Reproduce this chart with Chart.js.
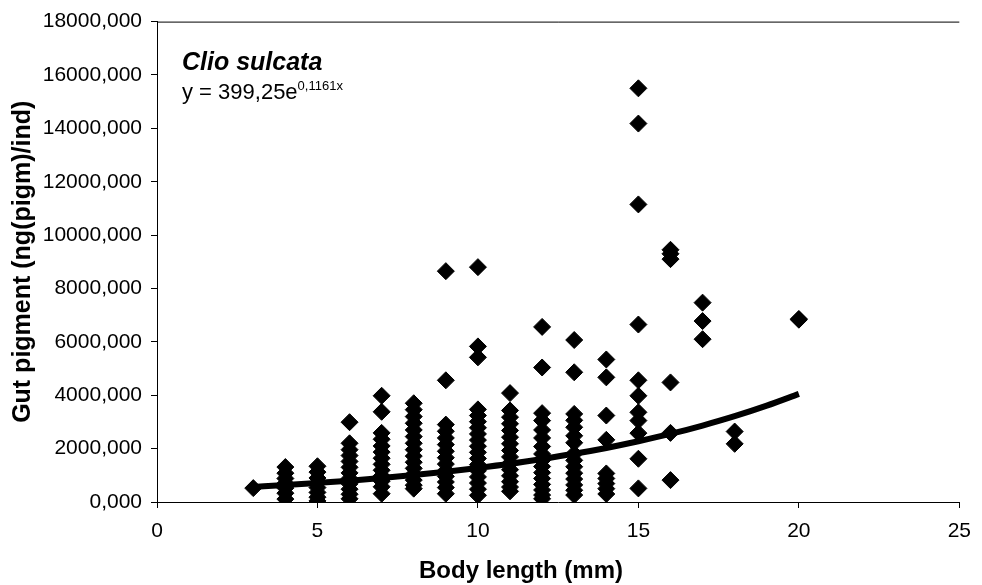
<!DOCTYPE html>
<html>
<head>
<meta charset="utf-8">
<script src="https://cdn.jsdelivr.net/npm/chart.js@4.4.1/dist/chart.umd.min.js"></script>
<style>
  html, body { margin: 0; padding: 0; background: #fff; }
  #wrap { width: 982px; height: 585px; position: relative; }
</style>
</head>
<body>
<div id="wrap"><canvas id="chart"></canvas></div>
<script>
/* ── DATA ─────────────────────────────────────────────────── */
// body length classes (mm) and the gut pigment readings at each one
const sizes = [3, 4, 5, 6, 7, 8, 9, 10, 11, 12, 13, 14, 15, 16, 17, 18, 20];
const pigment = [
  [520],
  [1310, 1080, 880, 700, 520, 330, 110],
  [1340, 1120, 900, 720, 540, 360, 180, 40],
  [2990, 2200, 1960, 1740, 1520, 1300, 1090, 880, 680, 480, 290, 120],
  [3980, 3380, 2590, 2350, 2100, 1870, 1640, 1410, 1190, 980, 780, 570, 310],
  [3700, 3460, 3200, 2950, 2700, 2450, 2200, 1960, 1720, 1490, 1260, 1040, 820, 630, 500],
  [8650, 4560, 2900, 2650, 2400, 2150, 1900, 1660, 1420, 1180, 960, 750, 540, 310],
  [8800, 5830, 5420, 3470, 3240, 3010, 2780, 2550, 2320, 2090, 1860, 1630, 1400, 1170, 940, 710, 480, 250],
  [4080, 3430, 3180, 2930, 2680, 2430, 2180, 1930, 1690, 1450, 1210, 980, 760, 560, 400],
  [6560, 5040, 3330, 3050, 2700, 2400, 2080, 1800, 1560, 1330, 1100, 880, 660, 450, 260, 120],
  [6070, 4860, 3300, 3060, 2800, 2480, 2220, 1810, 1560, 1320, 1080, 860, 640, 440, 260],
  [5340, 4670, 3240, 2330, 1070, 880, 690, 500, 300],
  [15500, 14180, 11150, 6650, 4560, 3980, 3360, 3050, 2580, 1620, 510],
  [9450, 9300, 9100, 4480, 2590, 820],
  [7470, 6780, 6100],
  [2640, 2180],
  [6830, 6860]
];

// exponential trend line as drawn, read at each mm from 3 to 20
const trendX = [3, 4, 5, 6, 7, 8, 9, 10, 11, 12, 13, 14, 15, 16, 17, 18, 19, 20];
const trendY = [565, 635, 715, 800, 900, 1010, 1135, 1275, 1430, 1610, 1805, 2025, 2275, 2550, 2865, 3215, 3610, 4050];

const xTicks = [0, 5, 10, 15, 20, 25];
const yMax = 18000;

const species  = "Clio sulcata";
const eqMain   = "y = 399,25e";
const eqPower  = "0,1161x";
const xTitle   = "Body length (mm)";
const yTitle   = "Gut pigment (ng(pigm)/ind)";

/* ── BUILD POINTS ─────────────────────────────────────────── */
const points = [];
sizes.forEach((s, i) => pigment[i].forEach(v => points.push({ x: s, y: v })));
const trend = trendX.map((x, i) => ({ x, y: trendY[i] }));

const FONT = "'Liberation Sans', Arial, sans-serif";

/* ── ANNOTATIONS ──────────────────────────────────────────── */
const notes = {
  id: "notes",
  afterDraw(chart) {
    const { ctx, chartArea: a } = chart;
    ctx.save();
    // plot frame top edge
    ctx.strokeStyle = "#000";
    ctx.lineWidth = 1;
    ctx.beginPath();
    ctx.moveTo(a.left, a.top + 0.5);
    ctx.lineTo(a.right, a.top + 0.5);
    ctx.stroke();

    ctx.fillStyle = "#000";
    ctx.textBaseline = "alphabetic";
    ctx.textAlign = "left";
    ctx.font = `italic bold 25px ${FONT}`;
    ctx.fillText(species, a.left + 25, 70);

    ctx.font = `22px ${FONT}`;
    ctx.fillText(eqMain, a.left + 25, 99);
    const w = ctx.measureText(eqMain).width;
    ctx.font = `13px ${FONT}`;
    ctx.fillText(eqPower, a.left + 25 + w, 90);

    ctx.font = `bold 24px ${FONT}`;
    ctx.textAlign = "center";
    ctx.textBaseline = "middle";
    ctx.fillText(xTitle, 521, 571);
    ctx.restore();
  }
};

/* ── CHART ────────────────────────────────────────────────── */
new Chart(document.getElementById("chart"), {
  type: "scatter",
  data: {
    datasets: [
      {
        data: points,
        pointStyle: "rectRot",
        pointRadius: 8.5,
        pointBorderWidth: 1,
        backgroundColor: "#000",
        borderColor: "#000"
      },
      {
        data: trend,
        showLine: true,
        pointRadius: 0,
        borderColor: "#000",
        borderWidth: 6,
        cubicInterpolationMode: "monotone"
      }
    ]
  },
  options: {
    responsive: true,
    maintainAspectRatio: false,
    animation: false,
    devicePixelRatio: 1,
    layout: { padding: { top: 18, right: 22, left: 0, bottom: 0 } },
    plugins: { legend: { display: false }, tooltip: { enabled: false } },
    scales: {
      x: {
        type: "linear",
        min: 0, max: 25,
        afterBuildTicks: s => { s.ticks = xTicks.map(v => ({ value: v })); },
        afterFit: s => { s.height = 83; },
        ticks: { color: "#000", font: { family: FONT, size: 21 }, padding: 11 },
        grid: { drawOnChartArea: false, drawTicks: true, tickLength: 6, color: "#000" },
        border: { color: "#000", width: 1 }
      },
      y: {
        min: 0, max: yMax,
        afterFit: s => { s.width = 157; },
        ticks: {
          stepSize: 2000,
          color: "#000",
          font: { family: FONT, size: 21 },
          padding: 9,
          callback: v => v.toFixed(3).replace(".", ",")
        },
        grid: { drawOnChartArea: false, drawTicks: true, tickLength: 6, color: "#000" },
        border: { color: "#000", width: 1 },
        title: {
          display: true,
          text: yTitle,
          color: "#000",
          font: { family: FONT, size: 25, weight: "bold" },
          padding: { top: 8, bottom: 0 }
        }
      }
    }
  },
  plugins: [notes]
});
</script>
</body>
</html>
